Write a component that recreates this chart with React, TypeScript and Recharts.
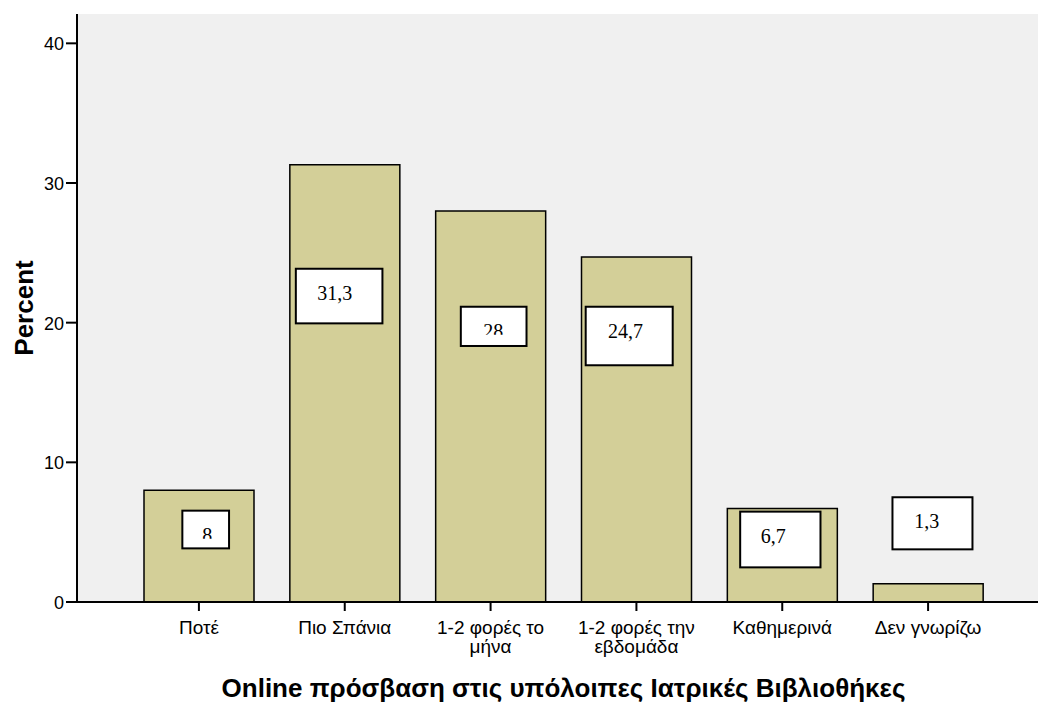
import React from 'react';
import { BarChart, Bar, XAxis, YAxis, CartesianGrid, LabelList, Label } from 'recharts';

// ---- data ----
const categories = [
  'Ποτέ',
  'Πιο Σπάνια',
  '1-2 φορές το μήνα',
  '1-2 φορές την εβδομάδα',
  'Καθημερινά',
  'Δεν γνωρίζω',
];
const percents = [8, 31.3, 28, 24.7, 6.7, 1.3];
const valueLabels = ['8', '31,3', '28', '24,7', '6,7', '1,3'];
const tickLines = [
  ['Ποτέ'],
  ['Πιο Σπάνια'],
  ['1-2 φορές το', 'μήνα'],
  ['1-2 φορές την', 'εβδομάδα'],
  ['Καθημερινά'],
  ['Δεν γνωρίζω'],
];
const yTicks = [0, 10, 20, 30, 40];
const yAxisTitle = 'Percent';
const xAxisTitle = 'Online πρόσβαση στις υπόλοιπες Ιατρικές Βιβλιοθήκες';

const data = categories.map((c, i) => ({ category: c, percent: percents[i], label: valueLabels[i] }));

// ---- label box layout (top/bottom in axis units, offsets in px) ----
const BOX_LAYOUT = [
  { top: 6.54, bottom: 3.84, dx: 6.7, w: 46.7, tdx: 1.5, clip: true },
  { top: 23.86, bottom: 19.95, dx: -5.7, w: 86.6, tdx: -4.3, clip: false },
  { top: 21.14, bottom: 18.33, dx: 3, w: 65.7, tdx: -0.5, clip: true },
  { top: 21.14, bottom: 16.95, dx: -7.3, w: 87, tdx: -3.7, clip: false },
  { top: 6.47, bottom: 2.48, dx: -2, w: 80.3, tdx: -7, clip: false },
  { top: 7.5, bottom: 3.77, dx: 4.3, w: 80, tdx: -5.6, clip: false },
];

const SANS = '"Liberation Sans", Arial, sans-serif';
const SERIF = '"Liberation Serif", "Times New Roman", serif';

const XTick = (props: any) => {
  const { x, y, payload } = props;
  const i = categories.indexOf(payload.value);
  const lines = i >= 0 ? tickLines[i] : [String(payload.value)];
  return (
    <g>
      {lines.map((l, k) => (
        <text key={k} x={x} y={y + 21 + k * 19} textAnchor="middle" fontFamily={SANS} fontSize={19} fill="#000">
          {l}
        </text>
      ))}
    </g>
  );
};

const YTick = (props: any) => {
  const { x, y, payload } = props;
  return (
    <text x={x} y={y + 7} textAnchor="end" fontFamily={SANS} fontSize={18} fill="#000">
      {payload.value}
    </text>
  );
};

const renderBox = (p: any) => {
  const { x, y, width, height, value } = p;
  let i = typeof p.index === 'number' ? p.index : valueLabels.indexOf(String(value));
  if (i < 0 || i >= BOX_LAYOUT.length) return null;
  const v = percents[i];
  const X = Number(x), Y = Number(y), W = Number(width), H = Number(height);
  const unit = H / v;
  const zero = Y + H;
  const L = BOX_LAYOUT[i];
  const cx = X + W / 2 + L.dx;
  const top = zero - L.top * unit;
  const bottom = zero - L.bottom * unit;
  const clipId = `lblclip-${i}`;
  return (
    <g key={`box-${i}`}>
      {L.clip && (
        <defs>
          <clipPath id={clipId}>
            <rect x={cx - L.w / 2} y={top} width={L.w} height={28} />
          </clipPath>
        </defs>
      )}
      <rect x={cx - L.w / 2} y={top} width={L.w} height={bottom - top} fill="#fff" stroke="#000" strokeWidth={2} />
      <text
        x={cx + L.tdx}
        y={top + 31}
        textAnchor="middle"
        fontFamily={SERIF}
        fontSize={20}
        fill="#000"
        clipPath={L.clip ? `url(#${clipId})` : undefined}
      >
        {valueLabels[i]}
      </text>
    </g>
  );
};

const YTitle = (p: any) => {
  const vb = p.viewBox || { x: 0, y: 14, width: 77, height: 588 };
  const cx = vb.x + 32.5;
  const cy = vb.y + vb.height / 2;
  return (
    <text
      x={cx}
      y={cy}
      transform={`rotate(-90, ${cx}, ${cy})`}
      textAnchor="middle"
      fontFamily={SANS}
      fontWeight="bold"
      fontSize={26}
      fill="#000"
    >
      {yAxisTitle}
    </text>
  );
};

export default function App() {
  return (
    <div style={{ position: 'absolute', left: 0, top: 0, width: 1038, height: 702, background: '#fff' }}>
      <BarChart width={1038} height={702} data={data} margin={{ top: 14, right: 0, bottom: 0, left: 0 }}>
        <CartesianGrid horizontal={false} vertical={false} fill="#F0F0F0" stroke="none" />
        <XAxis
          dataKey="category"
          height={100}
          padding={{ left: 49, right: 37 }}
          tickSize={9}
          tickMargin={2}
          interval={0}
          axisLine={{ stroke: '#000', strokeWidth: 2 }}
          tickLine={{ stroke: '#000', strokeWidth: 2 }}
          tick={<XTick />}
        >
          <Label value={xAxisTitle} position="insideBottom" offset={5} dx={6} fontFamily={SANS} fontWeight="bold" fontSize={26} fill="#000" />
        </XAxis>
        <XAxis
          xAxisId="top"
          orientation="top"
          dataKey="category"
          height={0}
          tick={false}
          tickLine={false}
          axisLine={{ stroke: '#000', strokeWidth: 2 }}
        />
        <YAxis
          width={77}
          domain={[0, 42.1]}
          ticks={yTicks}
          interval={0}
          tickSize={11}
          tickMargin={2}
          axisLine={{ stroke: '#000', strokeWidth: 2 }}
          tickLine={{ stroke: '#000', strokeWidth: 2 }}
          tick={<YTick />}
        >
          <Label content={<YTitle />} position="insideLeft" />
        </YAxis>
        <Bar dataKey="percent" fill="#D3CF98" stroke="#000" strokeWidth={1.5} barSize={110} isAnimationActive={false}>
          <LabelList dataKey="label" content={renderBox} />
        </Bar>
      </BarChart>
    </div>
  );
}
